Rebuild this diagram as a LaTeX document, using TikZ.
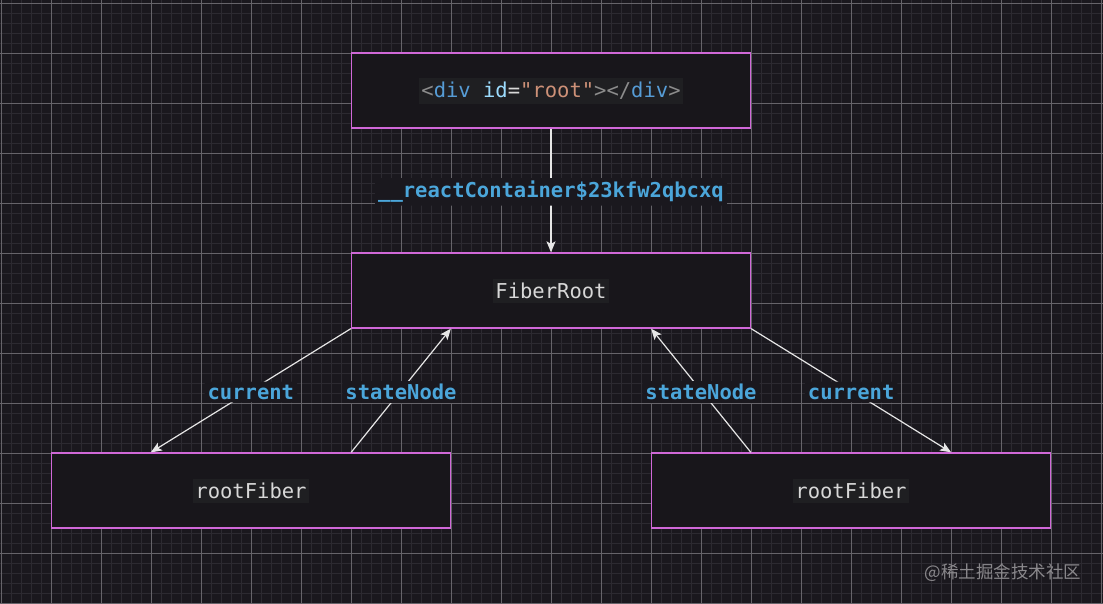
\documentclass[tikz,border=0pt]{standalone}
\usepackage{fontspec}
\usetikzlibrary{arrows.meta}
\newfontfamily\codefont{DejaVu Sans Mono}
\newfontfamily\cjkfont{Noto Sans CJK SC}
\definecolor{bgc}{HTML}{1A181E}
\definecolor{gridminor}{HTML}{2C2A31}
\definecolor{gridmajor}{HTML}{66646A}
\definecolor{boxfill}{HTML}{18161B}
\definecolor{boxline}{HTML}{D068D8}
\definecolor{hl}{HTML}{1F1F22}
\definecolor{lblue}{HTML}{4BA6DA}
\definecolor{cgray}{HTML}{8C8C8C}
\definecolor{cblue}{HTML}{569CD6}
\definecolor{clight}{HTML}{9CDCFE}
\definecolor{ctext}{HTML}{D8D8D8}
\definecolor{corange}{HTML}{CE9178}
\definecolor{wm}{HTML}{8A888C}
\definecolor{arrowc}{HTML}{E6E6E6}
\tikzset{
  fiberbox/.style={draw=boxline, fill=boxfill, line width=1.3pt, minimum width=399pt, minimum height=75pt, inner sep=0pt},
  codetext/.style={fill=hl, text=ctext, font=\codefont\fontsize{20.5}{24}\selectfont, inner xsep=2pt, inner ysep=4pt},
  link/.style={draw=arrowc, line width=1.2pt, -{Stealth[length=11pt,width=9pt,inset=2.5pt]}},
  edgelabel/.style={fill=bgc, text=lblue, font=\codefont\bfseries\fontsize{20.5}{24}\selectfont, inner xsep=3pt, inner ysep=3pt, rounded corners=2pt, yshift=-1.5pt},
}
\begin{document}
\begin{tikzpicture}[x=1pt,y=-1pt]
\useasboundingbox (0,0) rectangle (1103,604);
\fill[bgc] (0,0) rectangle (1103,604);
% grid
\foreach \i in {0,...,110} {
  \draw[gridminor, line width=0.8pt] ({1+10*\i},0) -- ({1+10*\i},604);
}
\foreach \j in {0,...,60} {
  \draw[gridminor, line width=0.8pt] (0,{3+10*\j}) -- (1103,{3+10*\j});
}
\foreach \i in {0,...,22} {
  \draw[gridmajor, line width=0.9pt] ({1+50*\i},0) -- ({1+50*\i},604);
}
\foreach \j in {0,...,12} {
  \draw[gridmajor, line width=0.9pt] (0,{3+50*\j}) -- (1103,{3+50*\j});
}
% boxes
\node[fiberbox] (dom) at (551,90.5) {};
\node[fiberbox] (fr) at (551,290.5) {};
\node[fiberbox] (lf) at (251,490.5) {};
\node[fiberbox] (rf) at (851,490.5) {};
% texts
\node[codetext] (domtxt) at (551,91) {\textcolor{cgray}{<}\textcolor{cblue}{div} \textcolor{clight}{id}\textcolor{ctext}{=}\textcolor{corange}{"root"}\textcolor{cgray}{></}\textcolor{cblue}{div}\textcolor{cgray}{>}};
\node[codetext] (frtxt) at (551,291) {FiberRoot};
\node[codetext] (lftxt) at (251,491) {rootFiber};
\node[codetext] (rftxt) at (851,491) {rootFiber};
% connectors
\draw[link] (dom.south) -- node[edgelabel] (l0) {\_\_reactContainer\$23kfw2qbcxq} (fr.north);
\draw[link] (fr.south west) -- node[edgelabel] (l1) {current} ([xshift=100pt]lf.north west);
\draw[link] ([xshift=-100pt]lf.north east) -- node[edgelabel] (l2) {stateNode} ([xshift=100pt]fr.south west);
\draw[link] ([xshift=100pt]rf.north west) -- node[edgelabel] (l3) {stateNode} ([xshift=-100pt]fr.south east);
\draw[link] (fr.south east) -- node[edgelabel] (l4) {current} ([xshift=-100pt]rf.north east);
% watermark
\node[text=wm, font=\cjkfont\fontsize{17.5}{20}\selectfont, anchor=center, inner sep=0pt] (wmk) at (1003,573) {@稀土掘金技术社区};
\end{tikzpicture}
\end{document}
